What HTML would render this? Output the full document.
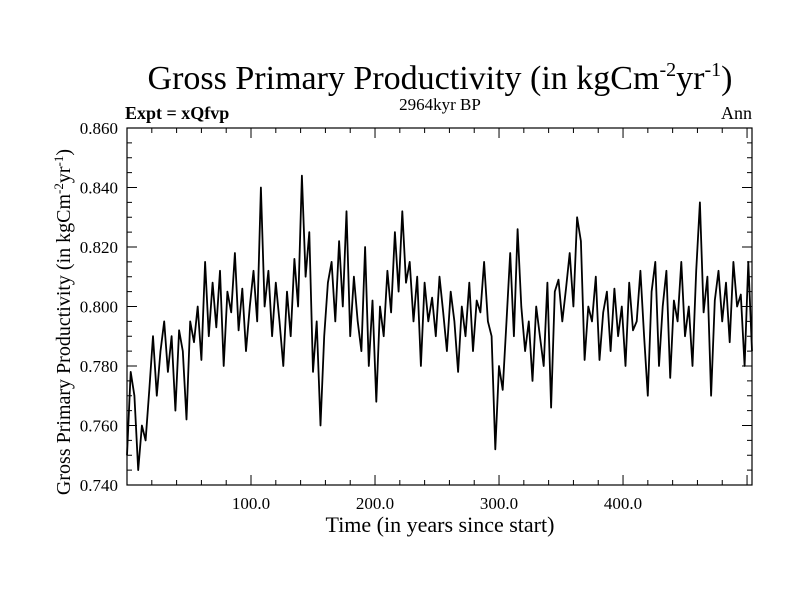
<!DOCTYPE html>
<html><head><meta charset="utf-8"><style>
body{margin:0;background:#fff;}
svg{display:block;font-family:"Liberation Serif",serif;}
</style></head><body>
<svg id="chart" width="800" height="600">
<text x="440" y="89" text-anchor="middle" font-size="34">Gross Primary Productivity (in kgCm<tspan dy="-13" font-size="20">-2</tspan><tspan dy="13">yr</tspan><tspan dy="-13" font-size="20">-1</tspan><tspan dy="13">)</tspan></text>
<text x="440" y="110" text-anchor="middle" font-size="17">2964kyr BP</text>
<text x="125" y="119" font-size="18" font-weight="bold">Expt = xQfvp</text>
<text x="752" y="119" text-anchor="end" font-size="18">Ann</text>
<text x="440" y="532" text-anchor="middle" font-size="22">Time (in years since start)</text>
<text transform="translate(70,322) rotate(-90)" text-anchor="middle" font-size="20">Gross Primary Productivity (in kgCm<tspan dy="-7" font-size="13">-2</tspan><tspan dy="7">yr</tspan><tspan dy="-7" font-size="13">-1</tspan><tspan dy="7">)</tspan></text>
<g id="axes"></g>
<path id="series" fill="none" stroke="#000" stroke-width="1.8" stroke-linejoin="round"/>
<rect x="127" y="128" width="625" height="357" fill="none" stroke="#000" stroke-width="1.2"/>
</svg>
<script>
const years0 = 0, yearStep = 3;
const gppValues = [
.750,.778,.770,.745,.760,.755,.772,.790,.770,.785,
.795,.778,.790,.765,.792,.785,.762,.795,.788,.800,
.782,.815,.790,.808,.793,.812,.780,.805,.798,.818,
.792,.806,.785,.800,.812,.795,.840,.800,.812,.790,
.808,.795,.780,.805,.790,.816,.800,.844,.810,.825,
.778,.795,.760,.790,.808,.815,.795,.822,.800,.832,
.790,.810,.795,.785,.820,.780,.802,.768,.800,.790,
.812,.798,.825,.805,.832,.808,.815,.795,.810,.780,
.808,.795,.803,.790,.810,.798,.785,.805,.795,.778,
.800,.790,.808,.785,.802,.798,.815,.795,.790,.752,
.780,.772,.795,.818,.790,.826,.800,.785,.795,.775,
.800,.790,.780,.808,.766,.805,.809,.795,.806,.818,
.800,.830,.822,.782,.800,.795,.810,.782,.798,.805,
.785,.806,.790,.800,.780,.808,.792,.795,.812,.790,
.770,.805,.815,.780,.800,.812,.776,.802,.795,.815,
.790,.800,.780,.812,.835,.798,.810,.770,.802,.812,
.795,.808,.788,.815,.800,.804,.780,.815,.785];
const xTickValues = [100,200,300,400];
const xTickLabels = ["100.0","200.0","300.0","400.0"];
const yTickValues = [0.74,0.76,0.78,0.80,0.82,0.84,0.86];
const yTickLabels = ["0.740","0.760","0.780","0.800","0.820","0.840","0.860"];

const L=127,R=752,T=128,B=485,X0=0,X1=504,Y0=0.74,Y1=0.86;
const sx=v=>L+(v-X0)/(X1-X0)*(R-L);
const sy=v=>B-(v-Y0)/(Y1-Y0)*(B-T);
const NS="http://www.w3.org/2000/svg";
const ax=document.getElementById('axes');
function line(x1,y1,x2,y2){const l=document.createElementNS(NS,'line');l.setAttribute('x1',x1);l.setAttribute('y1',y1);l.setAttribute('x2',x2);l.setAttribute('y2',y2);l.setAttribute('stroke','#000');l.setAttribute('stroke-width','1');


ax.appendChild(l);}
function txt(x,y,s,anchor){const t=document.createElementNS(NS,'text');t.setAttribute('x',x);t.setAttribute('y',y);t.setAttribute('text-anchor',anchor);t.setAttribute('font-size','17');t.textContent=s;


ax.appendChild(t);}
for(let v=20;v<X1;v+=20){const x=sx(v);const major=v%100===0;const h=major?10:5;line(x,B,x,B-h);line(x,T,x,T+h);}
for(let i=0;i<=24;i++){const v=Y0+i*0.005;const y=sy(v);const major=i%4===0;const h=major?10:5;line(L,y,L+h,y);line(R,y,R-h,y);}
xTickValues.forEach((v,i)=>txt(sx(v),B+24,xTickLabels[i],'middle'));
yTickValues.forEach((v,i)=>txt(L-9,sy(v)+6,yTickLabels[i],'end'));
let d='';
gppValues.forEach((v,i)=>{const x=sx(years0+i*yearStep);d+=(i?'L':'M')+x.toFixed(1)+' '+sy(v).toFixed(1);});
document.getElementById('series').setAttribute('d',d);
</script>
</body></html>
